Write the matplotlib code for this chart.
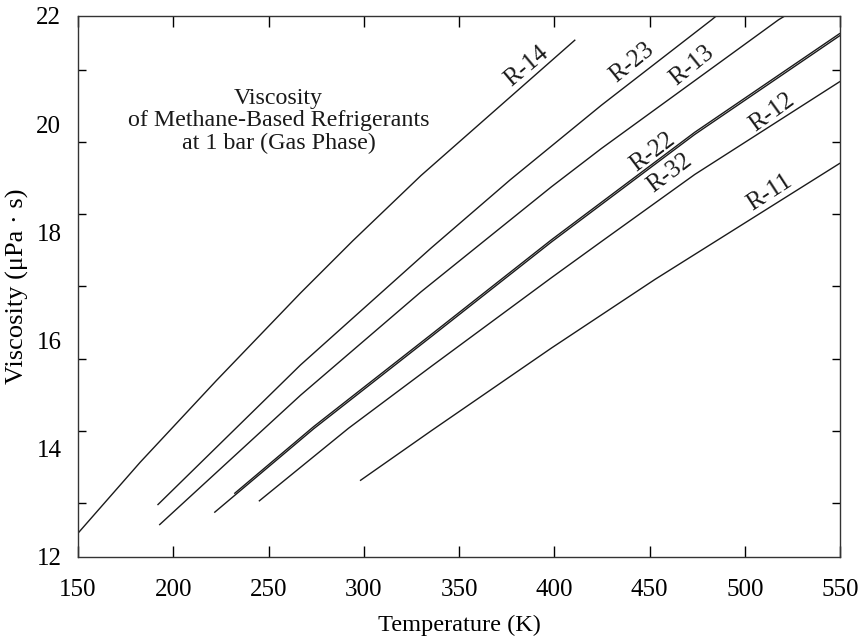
import matplotlib.pyplot as plt
import numpy as np

plt.rcParams['font.family'] = ['Liberation Serif', 'DejaVu Serif']

# curves: temperature (K), viscosity (uPa s)
t_r14 = [150, 182.6, 222.6, 266.8, 294.1, 330, 411]
v_r14 = [12.44, 13.75, 15.26, 16.88, 17.84, 19.05, 21.56]

t_r23 = [191.7, 266.8, 335.3, 376.8, 424.7, 482.6, 485]
v_r23 = [12.96, 15.55, 17.71, 18.97, 20.35, 21.93, 22.0]

t_r13 = [192.6, 266.8, 330, 398.4, 424.7, 517.7, 521]
v_r13 = [12.59, 14.99, 16.90, 18.84, 19.55, 21.93, 22.0]

t_r22 = [232, 273.7, 335.3, 398.4, 473.7, 550]
v_r22 = [13.17, 14.41, 16.11, 17.86, 19.85, 21.68]

t_r32 = [221.5, 273.7, 335.3, 398.4, 473.7, 550]
v_r32 = [12.82, 14.37, 16.07, 17.82, 19.81, 21.64]

t_r12 = [244.9, 292, 335.3, 398.4, 424.7, 473.7, 550]
v_r12 = [13.03, 14.38, 15.52, 17.16, 17.83, 19.07, 20.79]

t_r11 = [298, 335.3, 398.4, 452.8, 550]
v_r11 = [13.41, 14.33, 15.86, 17.13, 19.28]

curves = [
    ("R-14", t_r14, v_r14, (385.3, 21.06), 40),
    ("R-23", t_r23, v_r23, (440.5, 21.13), 39),
    ("R-13", t_r13, v_r13, (472.1, 21.09), 39),
    ("R-22", t_r22, v_r22, (451.6, 19.49), 37),
    ("R-32", t_r32, v_r32, (460.5, 19.10), 37),
    ("R-12", t_r12, v_r12, (514.2, 20.21), 36),
    ("R-11", t_r11, v_r11, (513.2, 18.73), 33),
]

x_ticks = [150, 200, 250, 300, 350, 400, 450, 500, 550]
y_ticks = [12, 14, 16, 18, 20, 22]
y_minor = [13 + k * 4 / 3 for k in range(7)]

fig = plt.figure(figsize=(8.67, 6.38), dpi=100)
ax = fig.add_axes([0.090, 0.127, 0.879, 0.848])

for name, t, v, pos, rot in curves:
    ax.plot(t, v, color='#1a1a1a', lw=1.0, solid_capstyle='butt',
            solid_joinstyle='round')
    ax.text(pos[0], pos[1], name, rotation=rot, ha='center', va='center',
            fontsize=18, color='#1a1a1a', rotation_mode='anchor')

ax.text(255.3, 20.06, "Viscosity\nof Methane-Based Refrigerants\nat 1 bar (Gas Phase)",
        ha='center', va='center', fontsize=17.3, linespacing=1.1, color='#1a1a1a')

ax.set_xlim(150, 550)
ax.set_ylim(12, 22)
ax.set_xticks(x_ticks)
ax.set_yticks(y_ticks)
ax.set_yticks(y_minor, minor=True)
ax.tick_params(axis='x', which='major', direction='in', length=8, width=1,
               top=True, pad=16, labelsize=18)
ax.tick_params(axis='y', which='major', length=0, pad=12, labelsize=18)
ax.tick_params(axis='y', which='minor', direction='in', length=6, width=1,
               right=True)
for s in ax.spines.values():
    s.set_linewidth(1.0)
    s.set_color('#333333')

ax.set_xlabel("Temperature (K)", fontsize=17.6, labelpad=10)
ax.set_ylabel("Viscosity (μPa · s)", fontsize=19, labelpad=5)

fig.savefig("out.png", dpi=100)
